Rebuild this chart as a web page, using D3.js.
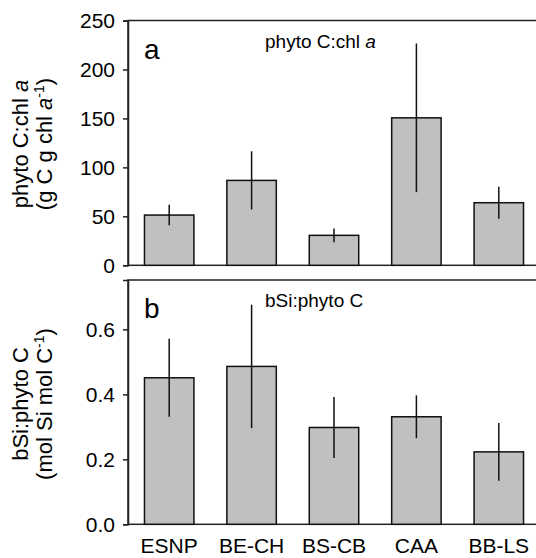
<!DOCTYPE html>
<html>
<head>
<meta charset="utf-8">
<script src="https://cdn.jsdelivr.net/npm/d3@7"></script>
<style>
  body { margin: 0; background: #fff; }
  text { font-family: "Liberation Sans", Arial, sans-serif; fill: #000; }
</style>
</head>
<body>
<div class="canvas"></div>
<script>
const width = 536;
const height = 558;

const sites = ["ESNP", "BE-CH", "BS-CB", "CAA", "BB-LS"];
const cChl = [51.3, 86.7, 30.6, 150.6, 63.9];
const cChlErr = [10.5, 29.7, 7.1, 75.9, 16.3];
const bSiC = [0.451, 0.486, 0.298, 0.331, 0.223];
const bSiCErr = [0.12, 0.19, 0.094, 0.066, 0.089];
const ticksA = [0, 50, 100, 150, 200, 250];
const ticksB = [0, 0.2, 0.4, 0.6];

const ml = 128, mr = -4;

const svg = d3.select(".canvas")
    .append("svg")
    .attr("width", width)
    .attr("height", height);

const x = d3.scaleBand()
    .domain(sites)
    .range([ml, width - mr])
    .paddingInner(0.4)
    .paddingOuter(0.2);

function panel(opts) {
    const y = d3.scaleLinear()
        .domain(opts.domain)
        .range([opts.bottom, opts.top]);

    const g = svg.append("g");

    g.append("rect")
        .attr("x", ml)
        .attr("y", opts.top)
        .attr("width", width + 10 - ml)
        .attr("height", opts.bottom - opts.top)
        .attr("fill", "none")
        .attr("stroke", "#222")
        .attr("stroke-width", 1.5);

    const bars = sites.map((s, i) => ({ s, v: opts.values[i], e: opts.errs[i] }));

    g.selectAll("rect.bar")
        .data(bars)
        .enter()
        .append("rect")
        .attr("class", "bar")
        .attr("x", d => x(d.s))
        .attr("y", d => y(d.v))
        .attr("width", x.bandwidth())
        .attr("height", d => y(0) - y(d.v))
        .attr("fill", "#c0c0c0")
        .attr("stroke", "#111")
        .attr("stroke-width", 1.5);

    g.selectAll("line.err")
        .data(bars)
        .enter()
        .append("line")
        .attr("class", "err")
        .attr("x1", d => x(d.s) + x.bandwidth() / 2)
        .attr("x2", d => x(d.s) + x.bandwidth() / 2)
        .attr("y1", d => y(d.v + d.e))
        .attr("y2", d => y(d.v - d.e))
        .attr("stroke", "#111")
        .attr("stroke-width", 1.5);

    const axis = g.append("g")
        .attr("transform", `translate(${ml},0)`)
        .call(d3.axisLeft(y).tickValues(opts.ticks).tickFormat(opts.fmt).tickSize(5).tickPadding(8));
    axis.select(".domain").attr("stroke", "#222").attr("stroke-width", 1.5);
    axis.selectAll(".tick line").attr("stroke", "#222").attr("stroke-width", 1.5);
    axis.selectAll(".tick text").style("font-size", "21px").attr("fill", "#000");

    g.append("text")
        .attr("x", 144)
        .attr("y", opts.top + 38)
        .style("font-size", "28px")
        .text(opts.letter);

    const t = g.append("text")
        .attr("x", 265)
        .attr("y", opts.top + 27)
        .style("font-size", "19px");
    opts.title(t);

    const yl = g.append("text")
        .attr("transform", `translate(0,${opts.mid}) rotate(-90)`)
        .attr("text-anchor", "middle")
        .style("font-size", "22px");
    opts.ylab(yl);
    return y;
}

panel({
    domain: [0, 250], top: 20.5, bottom: 265.3, ticks: ticksA, fmt: d3.format("d"),
    values: cChl, errs: cChlErr, letter: "a", mid: 144,
    title: t => {
        t.append("tspan").text("phyto C:chl ");
        t.append("tspan").style("font-style", "italic").text("a");
    },
    ylab: t => {
        const l1 = t.append("tspan").attr("x", 0).attr("y", 28);
        l1.append("tspan").text("phyto C:chl ");
        l1.append("tspan").style("font-style", "italic").text("a");
        const l2 = t.append("tspan").attr("x", 0).attr("y", 52);
        l2.append("tspan").text("(g C g chl ");
        l2.append("tspan").style("font-style", "italic").text("a");
        l2.append("tspan").attr("dy", -8).style("font-size", "14px").text("-1");
        l2.append("tspan").attr("dy", 8).text(")");
    }
});

panel({
    domain: [0, 0.752], top: 280, bottom: 524.3, ticks: ticksB, fmt: d3.format(".1f"),
    values: bSiC, errs: bSiCErr, letter: "b", mid: 404,
    title: t => t.text("bSi:phyto C"),
    ylab: t => {
        t.append("tspan").attr("x", 0).attr("y", 28).text("bSi:phyto C");
        const l2 = t.append("tspan").attr("x", 0).attr("y", 52);
        l2.append("tspan").text("(mol Si mol C");
        l2.append("tspan").attr("dy", -8).style("font-size", "14px").text("-1");
        l2.append("tspan").attr("dy", 8).text(")");
    }
});

svg.append("g")
    .selectAll("text")
    .data(sites)
    .enter()
    .append("text")
    .attr("x", d => x(d) + x.bandwidth() / 2)
    .attr("y", 553)
    .attr("text-anchor", "middle")
    .style("font-size", "21px")
    .text(d => d);
</script>
</body>
</html>
